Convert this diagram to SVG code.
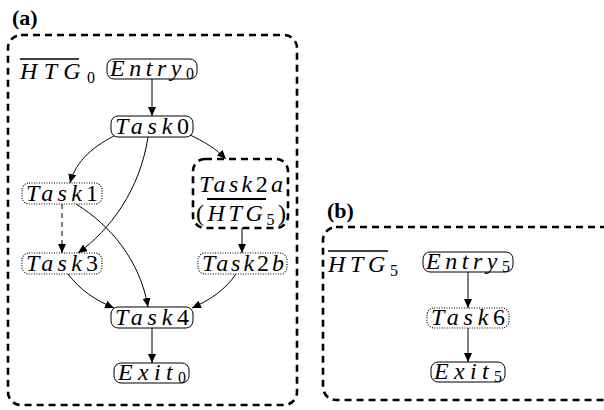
<svg xmlns="http://www.w3.org/2000/svg" width="604" height="410" viewBox="0 0 604 410">
<defs>
<marker id="ah" markerWidth="10" markerHeight="8" refX="9" refY="4" orient="auto" markerUnits="userSpaceOnUse">
<path d="M0,0 L9,4 L0,8 Z" fill="#000"/>
</marker>
<style>
.frame{fill:none;stroke:#000;stroke-width:2.6;stroke-dasharray:7,5}
.solid{fill:#fff;stroke:#000;stroke-width:1}
.dot{fill:#fff;stroke:#000;stroke-width:1.2;stroke-dasharray:1,1.5}
.dash2{fill:#fff;stroke:#000;stroke-width:2.6;stroke-dasharray:7,5}
.e{fill:none;stroke:#000;stroke-width:1;marker-end:url(#ah)}
.ed{fill:none;stroke:#000;stroke-width:1;stroke-dasharray:5,4;marker-end:url(#ah)}
.ov{stroke:#000;stroke-width:1.3}
</style>
</defs>
<text x="12" y="25" font-family="Liberation Serif, serif" font-weight="bold" font-size="22">(a)</text>
<text x="327" y="218" font-family="Liberation Serif, serif" font-weight="bold" font-size="22">(b)</text>
<rect class="frame" x="8" y="35" width="289" height="370" rx="13"/>
<rect class="frame" x="323" y="227" width="300" height="173" rx="13"/>
<g font-family="Liberation Serif, serif" font-size="24" font-style="italic" fill="#000">
<g id="htg0label">
<line class="ov" x1="20" y1="59" x2="79" y2="59"/>
<text x="20" y="79" textLength="75" lengthAdjust="spacing">HTG<tspan font-size="16" font-style="normal" dy="4">0</tspan></text>
</g>
<g id="htg5label">
<line class="ov" x1="328" y1="251" x2="388" y2="251"/>
<text x="328" y="272" textLength="70" lengthAdjust="spacing">HTG<tspan font-size="16" font-style="normal" dy="4">5</tspan></text>
</g>
<g id="edges">
<path class="e" d="M152,79 L152,116"/>
<path class="e" d="M118,134 C95,145 76,160 70,183"/>
<path class="e" d="M148,137 C140,190 110,230 78,253"/>
<path class="e" d="M188,134 C205,142 215,148 226,159"/>
<path class="ed" d="M62,204 L62,253"/>
<path class="e" d="M76,204 C110,225 140,260 148,307"/>
<path class="e" d="M68,274 C80,290 95,300 114,308"/>
<path class="e" d="M236,274 C225,290 210,300 192,308"/>
<path class="e" d="M242,228 L242,253"/>
<path class="e" d="M152,328 L152,363"/>
<path class="e" d="M468,272 L468,308"/>
<path class="e" d="M468,328 L468,362"/>
</g>
<g id="entry0">
<rect class="solid" x="107" y="59" width="90" height="20" rx="7"/>
<text x="110" y="76" textLength="84" lengthAdjust="spacing">Entry<tspan font-size="16" font-style="normal" dy="3">0</tspan></text>
</g>
<g id="task0">
<rect class="solid" x="111" y="116" width="82" height="21" rx="7"/>
<text x="115" y="134" textLength="74" lengthAdjust="spacing">Task<tspan font-style="normal">0</tspan></text>
</g>
<g id="task1">
<rect class="dot" x="22" y="183" width="80" height="21" rx="7"/>
<text x="26" y="201" textLength="72" lengthAdjust="spacing">Task<tspan font-style="normal">1</tspan></text>
</g>
<g id="task3">
<rect class="dot" x="22" y="253" width="80" height="21" rx="7"/>
<text x="26" y="271" textLength="72" lengthAdjust="spacing">Task<tspan font-style="normal">3</tspan></text>
</g>
<g id="task2a">
<rect class="dash2" x="193" y="159" width="95" height="69" rx="12"/>
<text x="199" y="192" textLength="84" lengthAdjust="spacing">Task<tspan font-style="normal">2</tspan>a</text>
<line class="ov" x1="207" y1="199" x2="266" y2="199" style="stroke-width:2"/>
<text x="196" y="221" textLength="90" lengthAdjust="spacing"><tspan font-style="normal">(</tspan>HTG<tspan font-size="16" font-style="normal" dy="4">5</tspan><tspan font-style="normal" dy="-4">)</tspan></text>
</g>
<g id="task2b">
<rect class="dot" x="198" y="253" width="89" height="21" rx="7"/>
<text x="202" y="271" textLength="82" lengthAdjust="spacing">Task<tspan font-style="normal">2</tspan>b</text>
</g>
<g id="task4">
<rect class="solid" x="111" y="307" width="82" height="21" rx="7"/>
<text x="115" y="325" textLength="74" lengthAdjust="spacing">Task<tspan font-style="normal">4</tspan></text>
</g>
<g id="exit0">
<rect class="solid" x="114" y="363" width="75" height="20" rx="7"/>
<text x="118" y="380" textLength="68" lengthAdjust="spacing">Exit<tspan font-size="16" font-style="normal" dy="3">0</tspan></text>
</g>
<g id="entry5">
<rect class="solid" x="423" y="252" width="90" height="20" rx="7"/>
<text x="426" y="269" textLength="84" lengthAdjust="spacing">Entry<tspan font-size="16" font-style="normal" dy="3">5</tspan></text>
</g>
<g id="task6">
<rect class="dot" x="427" y="308" width="82" height="20" rx="7"/>
<text x="431" y="325" textLength="74" lengthAdjust="spacing">Task<tspan font-style="normal">6</tspan></text>
</g>
<g id="exit5">
<rect class="solid" x="431" y="362" width="74" height="20" rx="7"/>
<text x="434" y="379" textLength="68" lengthAdjust="spacing">Exit<tspan font-size="16" font-style="normal" dy="3">5</tspan></text>
</g>
</g>
</svg>
